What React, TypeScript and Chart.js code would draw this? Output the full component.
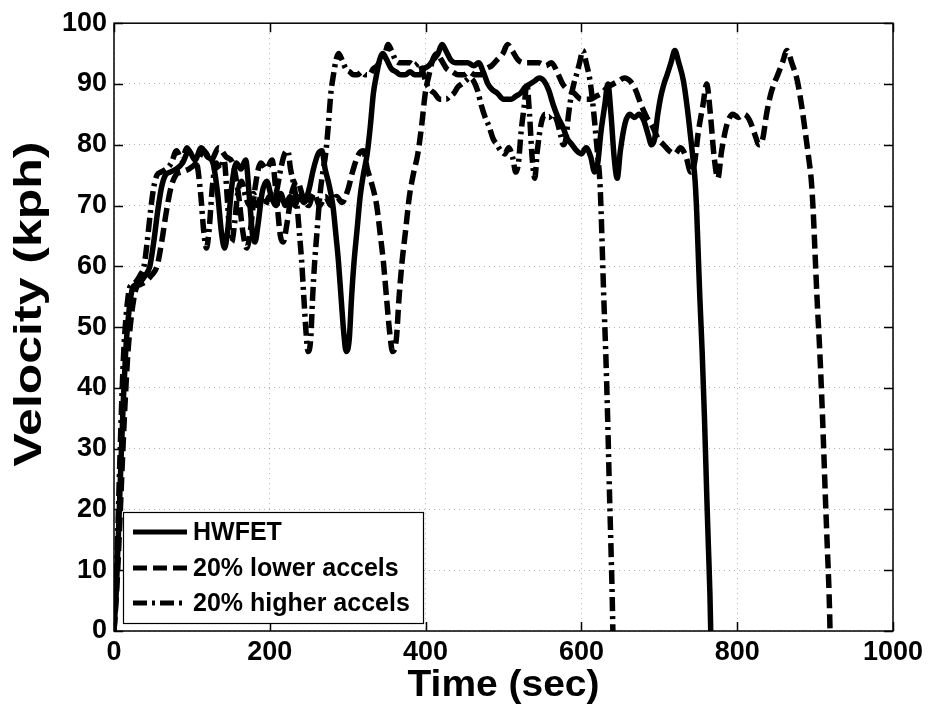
import React, { useEffect, useRef } from 'react';
import { Chart, registerables } from 'chart.js';

Chart.register(...registerables);

// ---- data ----
// time (s) of each sample for the three drive cycles
const hwfetTime = [
  0, 3, 6, 9, 12, 15, 18, 21, 24, 28, 34, 40, 46, 51, 56, 61, 66, 72, 80, 88,
  96, 104, 112, 120, 127, 133, 138, 142, 146, 151, 157, 163, 169, 174, 178, 181, 185, 190, 196, 202,
  208, 214, 220, 226, 232, 238, 244, 250, 256, 262, 267, 271, 275, 281, 285, 288, 292, 295, 298, 302,
  305, 308, 312, 316, 320, 325, 329, 333, 337, 341, 345, 350, 356, 362, 368, 374, 380, 386, 392, 398,
  404, 410, 416, 421, 426, 432, 438, 446, 454, 462, 468, 474, 480, 486, 492, 500, 510, 516, 522, 528,
  534, 540, 546, 552, 558, 564, 570, 576, 582, 588, 594, 600, 606, 612, 617, 621, 625, 630, 634, 638,
  642, 646, 650, 656, 662, 668, 674, 680, 686, 690, 694, 698, 702, 706, 710, 715, 720, 725, 731, 736,
  740, 743, 746, 748, 750, 752, 755, 758, 761, 763, 765, 766,
];

const lowerAccelTime = [
  0, 3.6, 7.2, 10.8, 14.4, 18, 21.6, 25.2, 28.8, 33.6, 40.8, 48, 55.2, 61.2, 67.2, 73.2, 79.2, 86.4, 96, 105.6,
  115.2, 124.8, 134.4, 144, 152.4, 159.6, 165.6, 170.4, 175.2, 181.2, 188.4, 195.6, 202.8, 208.8, 213.6, 217.2, 222, 228, 235.2, 242.4,
  249.6, 256.8, 264, 271.2, 278.4, 285.6, 292.8, 300, 307.2, 314.4, 320.4, 325.2, 330, 337.2, 342, 345.6, 350.4, 354, 357.6, 362.4,
  366, 369.6, 374.4, 379.2, 384, 390, 394.8, 399.6, 404.4, 409.2, 414, 420, 427.2, 434.4, 441.6, 448.8, 456, 463.2, 470.4, 477.6,
  484.8, 492, 499.2, 505.2, 511.2, 518.4, 525.6, 535.2, 544.8, 554.4, 561.6, 568.8, 576, 583.2, 590.4, 600, 612, 619.2, 626.4, 633.6,
  640.8, 648, 655.2, 662.4, 669.6, 676.8, 684, 691.2, 698.4, 705.6, 712.8, 720, 727.2, 734.4, 740.4, 745.2, 750, 756, 760.8, 765.6,
  770.4, 775.2, 780, 787.2, 794.4, 801.6, 808.8, 816, 823.2, 828, 832.8, 837.6, 842.4, 847.2, 852, 858, 864, 870, 877.2, 883.2,
  888, 891.6, 895.2, 897.6, 900, 902.4, 906, 909.6, 913.2, 915.6, 918, 919.2,
];

const higherAccelTime = [
  0, 2.5, 5.0, 7.5, 10.0, 12.5, 15.0, 17.6, 20.1, 23.4, 28.4, 33.4, 38.5, 42.6, 46.8, 51.0, 55.2, 60.2, 66.9, 73.6,
  80.3, 86.9, 93.6, 100.3, 106.2, 111.2, 115.4, 118.7, 122.1, 126.2, 131.3, 136.3, 141.3, 145.5, 148.8, 151.3, 154.7, 158.8, 163.9, 168.9,
  173.9, 178.9, 183.9, 188.9, 194.0, 199.0, 204.0, 209.0, 214.0, 219.0, 223.2, 226.6, 229.9, 234.9, 238.3, 240.8, 244.1, 246.6, 249.1, 252.5,
  255.0, 257.5, 260.8, 264.2, 267.5, 271.7, 275.0, 278.4, 281.7, 285.1, 288.4, 292.6, 297.6, 302.6, 307.6, 312.7, 317.7, 322.7, 327.7, 332.7,
  337.7, 342.8, 347.8, 352.0, 356.1, 361.2, 366.2, 372.9, 379.5, 386.2, 391.2, 396.3, 401.3, 406.3, 411.3, 418.0, 426.4, 431.4, 436.4, 441.4,
  446.4, 451.4, 456.5, 461.5, 466.5, 471.5, 476.5, 481.5, 486.6, 491.6, 496.6, 501.6, 506.6, 511.6, 515.8, 519.2, 522.5, 526.7, 530.0, 533.4,
  536.7, 540.1, 543.4, 548.4, 553.4, 558.4, 563.5, 568.5, 573.5, 576.8, 580.2, 583.5, 586.9, 590.2, 593.6, 597.7, 601.9, 606.1, 611.1, 615.3,
  618.6, 621.1, 623.7, 625.3, 627.0, 628.7, 631.2, 633.7, 636.2, 637.9, 639.5, 640.4,
];

// velocity (kph) at each sample (same speed trace, stretched/compressed in time)
const cycleSpeed = [
  0, 7, 17, 28, 38, 46, 51, 54.5, 56.5, 57, 57.5, 58.5, 60, 64, 69, 73, 75, 75.5, 76, 77,
  79, 77.5, 79.5, 78, 77, 72, 65.5, 63, 66, 73, 77, 76, 77.5, 71, 65, 64, 67, 72, 74, 71.5,
  70, 72, 70, 71.5, 70, 71.5, 70.5, 72.5, 76, 78.5, 79, 76, 74, 70, 65, 61, 54, 49, 46, 48,
  55, 60.5, 66, 71.5, 75, 78.5, 83, 88.5, 91.5, 94, 95, 94, 92.5, 92, 91.5, 91.5, 92, 91.5, 91.5, 92.5,
  93, 94, 95, 96.5, 95.5, 94, 93.5, 93.5, 93.5, 93, 93.5, 92, 90, 89, 88.5, 87.5, 87.5, 88, 88.5, 89.5,
  90, 90.5, 91, 90.5, 89, 86.5, 84.5, 83, 81, 80, 79, 78.5, 79.5, 78, 75.5, 77, 82, 86.5, 90, 85,
  78, 74.5, 79, 83.5, 85, 84.5, 85, 84, 81.5, 80, 81, 85, 88, 90, 91.5, 93.5, 95.5, 93.5, 90.5, 86,
  81.5, 78, 74, 69, 62, 55, 46, 35, 22, 14, 6, 0,
];

const seriesLabels = ['HWFET', '20% lower accels', '20% higher accels'];
const seriesDash: number[][] = [[], [14, 6], [14, 5, 3, 5]];
const xTickValues = [0, 200, 400, 600, 800, 1000];
const yTickValues = [0, 10, 20, 30, 40, 50, 60, 70, 80, 90, 100];
const xTitle = 'Time (sec)';
const yTitle = 'Velocity (kph)';

const FONT = '"Liberation Sans", Arial, Helvetica, sans-serif';

function drawStretchedText(
  ctx: CanvasRenderingContext2D,
  text: string,
  cx: number,
  cy: number,
  size: number,
  targetWidth: number,
  rotation: number
) {
  ctx.save();
  ctx.translate(cx, cy);
  ctx.rotate(rotation);
  ctx.font = `bold ${size}px ${FONT}`;
  const w = ctx.measureText(text).width;
  ctx.scale(targetWidth / w, 1);
  ctx.textAlign = 'center';
  ctx.textBaseline = 'middle';
  ctx.fillStyle = '#000';
  ctx.fillText(text, 0, 0);
  ctx.restore();
}

const frameAndLegend = {
  id: 'frameAndLegend',
  afterDraw(chart: any) {
    const { ctx, chartArea } = chart;
    const { left, right, top, bottom } = chartArea;
    const xs = chart.scales.x;
    const ys = chart.scales.y;
    ctx.save();
    // box
    ctx.strokeStyle = '#000';
    ctx.lineWidth = 1.5;
    ctx.setLineDash([]);
    ctx.strokeRect(left, top, right - left, bottom - top);
    // inside ticks
    const tl = 9;
    ctx.lineWidth = 1.5;
    ctx.beginPath();
    xTickValues.forEach((v) => {
      const px = Math.round(xs.getPixelForValue(v)) + 0.5;
      ctx.moveTo(px, bottom);
      ctx.lineTo(px, bottom - tl);
      ctx.moveTo(px, top);
      ctx.lineTo(px, top + tl);
    });
    yTickValues.forEach((v) => {
      const py = Math.round(ys.getPixelForValue(v)) + 0.5;
      ctx.moveTo(left, py);
      ctx.lineTo(left + tl, py);
      ctx.moveTo(right, py);
      ctx.lineTo(right - tl, py);
    });
    ctx.stroke();

    // legend
    const bx = left + 9;
    const by = bottom - 119;
    const bw = 300;
    const bh = 111;
    ctx.fillStyle = '#fff';
    ctx.fillRect(bx, by, bw, bh);
    ctx.strokeStyle = '#000';
    ctx.lineWidth = 1.2;
    ctx.strokeRect(bx + 0.5, by + 0.5, bw, bh);
    const rowY = [by + 20, by + 56, by + 91];
    ctx.font = `bold 25px ${FONT}`;
    ctx.textBaseline = 'middle';
    ctx.textAlign = 'left';
    seriesLabels.forEach((label, i) => {
      const y = rowY[i];
      ctx.beginPath();
      ctx.setLineDash(seriesDash[i]);
      ctx.lineWidth = 5;
      ctx.lineCap = 'butt';
      ctx.strokeStyle = '#000';
      ctx.moveTo(bx + 10, y);
      ctx.lineTo(bx + 64, y);
      ctx.stroke();
      ctx.setLineDash([]);
      ctx.fillStyle = '#000';
      ctx.fillText(label, bx + 70, y + 1);
    });
    ctx.restore();

    // axis titles
    drawStretchedText(ctx, xTitle, (left + right) / 2, 686, 37, 192, 0);
    drawStretchedText(ctx, yTitle, 31, 304, 38, 325, -Math.PI / 2);
  },
};

export default function App() {
  const canvasRef = useRef<HTMLCanvasElement | null>(null);

  useEffect(() => {
    document.body.style.margin = '0';
    const canvas = canvasRef.current;
    if (!canvas) return;
    const times = [hwfetTime, lowerAccelTime, higherAccelTime];
    const datasets = seriesLabels.map((label, i) => ({
      label,
      data: times[i].map((t, k) => ({ x: t, y: cycleSpeed[k] })),
      showLine: true,
      borderColor: '#000',
      backgroundColor: '#000',
      borderWidth: 5.5,
      borderDash: seriesDash[i],
      borderCapStyle: 'butt' as const,
      borderJoinStyle: 'round' as const,
      pointRadius: 0,
      pointHoverRadius: 0,
      cubicInterpolationMode: 'monotone' as const,
      fill: false,
    }));

    const tickFont = { family: FONT, size: 27, weight: 'bold' as const };
    const gridStyle = { color: 'rgba(0,0,0,0.3)', lineWidth: 1, drawTicks: false };

    const chart = new Chart(canvas, {
      type: 'scatter',
      data: { datasets },
      options: {
        responsive: false,
        animation: false,
        devicePixelRatio: 1,
        layout: { padding: 0 },
        plugins: {
          legend: { display: false },
          tooltip: { enabled: false },
          title: { display: false },
        },
        scales: {
          x: {
            type: 'linear',
            position: 'bottom',
            min: 0,
            max: 1000,
            afterBuildTicks: (s: any) => {
              s.ticks = xTickValues.map((v) => ({ value: v }));
            },
            afterFit: (s: any) => {
              s.height = 82;
            },
            ticks: {
              font: tickFont,
              color: '#000',
              padding: 5,
              maxRotation: 0,
              autoSkip: false,
              callback: (v: any) => String(v),
            },
            grid: gridStyle,
            border: { display: false, dash: [1, 4] },
            title: { display: false },
          },
          xTop: {
            type: 'linear',
            position: 'top',
            min: 0,
            max: 1000,
            display: true,
            ticks: { display: false },
            grid: { display: false, drawTicks: false },
            border: { display: false },
            afterFit: (s: any) => {
              s.height = 20;
            },
          },
          y: {
            type: 'linear',
            position: 'left',
            min: 0,
            max: 100,
            afterBuildTicks: (s: any) => {
              s.ticks = yTickValues.map((v) => ({ value: v }));
            },
            afterFit: (s: any) => {
              s.width = 114;
            },
            ticks: {
              font: tickFont,
              color: '#000',
              padding: 7,
              autoSkip: false,
              callback: (v: any) => String(v),
            },
            grid: gridStyle,
            border: { display: false, dash: [1, 4] },
            title: { display: false },
          },
          yRight: {
            type: 'linear',
            position: 'right',
            min: 0,
            max: 100,
            display: true,
            ticks: { display: false },
            grid: { display: false, drawTicks: false },
            border: { display: false },
            afterFit: (s: any) => {
              s.width = 39;
            },
          },
        },
      } as any,
      plugins: [frameAndLegend],
    });

    return () => {
      chart.destroy();
    };
  }, []);

  return (
    <div style={{ width: 932, height: 713, background: '#fff' }}>
      <canvas ref={canvasRef} width={932} height={713} style={{ display: 'block' }} />
    </div>
  );
}
